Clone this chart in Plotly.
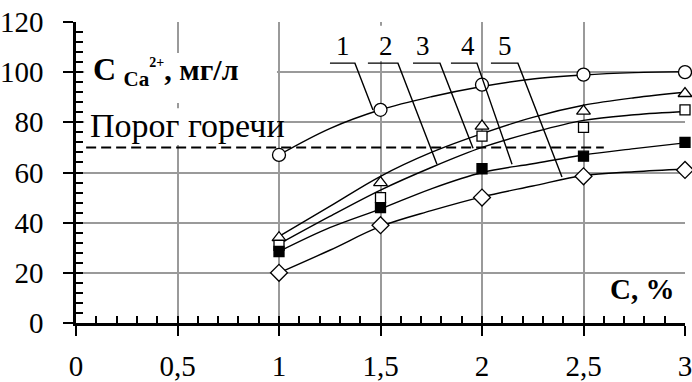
import plotly.graph_objects as go

# ---- data ----
X_POINTS = [1, 1.5, 2, 2.5, 3]
S1 = [67, 85, 95, 99, 100]        # circles (1)
S2 = [34, 56, 78.5, 84.5, 91.5]   # open triangles (2)
S3 = [31, 50, 74.5, 78, 85]       # open squares (3)
S4 = [28.5, 46, 61.5, 66.5, 72]   # filled squares (4)
S5 = [20, 39, 50, 58.5, 61]       # diamonds (5)

CURVE_X = [1, 1.25, 1.5, 1.75, 2, 2.25, 2.5, 2.75, 3]
C1 = [67, 77.5, 85, 90.2, 94.3, 97.3, 98.9, 99.8, 100.2]
C2 = [34.5, 46.5, 58.5, 68, 75.5, 82, 86.8, 89.8, 92]
C3 = [31.5, 42.5, 53, 62, 70, 76, 80.8, 83, 84.3]
C4 = [28.5, 38, 45.5, 53.5, 60, 63.5, 67, 69.5, 71.8]
C5 = [20, 29, 38.5, 44.8, 50.3, 54.6, 58.8, 60.3, 61.4]

THRESHOLD = 70
THRESHOLD_LABEL = "Порог горечи"
SERIES_LABELS = ["1", "2", "3", "4", "5"]

X_TICKS = [0, 0.5, 1, 1.5, 2, 2.5, 3]
X_TICK_TEXT = ["0", "0,5", "1", "1,5", "2", "2,5", "3"]
Y_TICKS = [0, 20, 40, 60, 80, 100, 120]
Y_TICK_TEXT = ["0", "20", "40", "60", "80", "100", "120"]

FONT = "Liberation Serif"

fig = go.Figure()

curves = [C1, C2, C3, C4, C5]
for c in curves:
    fig.add_trace(go.Scatter(x=CURVE_X, y=c, mode="lines",
                             line=dict(color="black", width=1.4, shape="spline", smoothing=1),
                             hoverinfo="skip", showlegend=False, cliponaxis=False))

markers = [
    (S1, "circle", "white", 13),
    (S2, "triangle-up", "white", 12),
    (S3, "square", "white", 10),
    (S4, "square", "black", 10),
    (S5, "diamond", "white", 13),
]
for s, sym, fill, size in markers:
    fig.add_trace(go.Scatter(x=X_POINTS, y=s, mode="markers",
                             marker=dict(symbol=sym, color=fill, size=size,
                                         line=dict(color="black", width=1.3)),
                             showlegend=False, cliponaxis=False))

# invisible trace for the minor-tick overlay axes
fig.add_trace(go.Scatter(x=[None], y=[None], xaxis="x2", yaxis="y2",
                         mode="markers", showlegend=False, hoverinfo="skip"))

shapes = []
# white boxes behind the texts
for (x0, x1, y0, y1) in [(0.04, 0.99, 87.7, 107.6), (0.04, 0.99, 71.0, 85.6), (1.478, 1.576, 104.4, 118.5)]:
    shapes.append(dict(type="rect", xref="x", yref="y", x0=x0, x1=x1, y0=y0, y1=y1,
                       fillcolor="white", line=dict(width=0), layer="between"))
# threshold dashed line
shapes.append(dict(type="line", xref="x", yref="y", x0=0.05, x1=2.6, y0=THRESHOLD, y1=THRESHOLD,
                   line=dict(color="black", width=2, dash="10px,5px")))
# leader lines (label underline + diagonal pointer)
leaders = [
    (1.251, 1.374, 1.463, 84.9),
    (1.438, 1.586, 1.778, 63.3),
    (1.660, 1.793, 1.956, 69.7),
    (1.847, 1.975, 2.148, 63.3),
    (2.044, 2.177, 2.394, 58.2),
]
LY = 103.6
for (a, b, ex, ey) in leaders:
    shapes.append(dict(type="path", xref="x", yref="y",
                       path=f"M {a},{LY} L {b},{LY} L {ex},{ey}",
                       line=dict(color="black", width=1.4)))

annotations = []
label_x = [1.315, 1.527, 1.709, 1.931, 2.113]
for lx, t in zip(label_x, SERIES_LABELS):
    annotations.append(dict(x=lx, y=110.4, xref="x", yref="y", text=t, showarrow=False,
                            font=dict(family=FONT, size=27, color="black"),
                            xanchor="center", yanchor="middle"))
annotations.append(dict(x=0.058, y=78.6, xref="x", yref="y", text=THRESHOLD_LABEL, showarrow=False,
                        font=dict(family=FONT, size=34, color="black"),
                        xanchor="left", yanchor="middle"))
annotations.append(dict(x=0.075, y=100.5, xref="x", yref="y",
                        text="<b><span style='font-size:32px'>C</span> <sub>Ca</sub><sup><span style='font-size:14px'>2+</span></sup>, мг/л</b>",
                        showarrow=False, font=dict(family=FONT, size=30, color="black"),
                        xanchor="left", yanchor="middle"))
annotations.append(dict(x=2.788, y=13.7, xref="x", yref="y", text="<b>C, %</b>", showarrow=False,
                        font=dict(family=FONT, size=29, color="black"),
                        xanchor="center", yanchor="middle"))

tickfont = dict(family=FONT, size=29, color="black", weight="normal")

fig.update_layout(
    width=692, height=382,
    margin=dict(l=76, r=7, t=22, b=59),
    font=dict(family=FONT, color="black"),
    paper_bgcolor="white", plot_bgcolor="white",
    showlegend=False,
    shapes=shapes, annotations=annotations,
    xaxis=dict(range=[0, 3], tickmode="array", tickvals=X_TICKS, ticktext=X_TICK_TEXT, automargin=False,
               showgrid=True, gridcolor="#9a9a9a", gridwidth=1.5, zeroline=False,
               showline=True, linecolor="black", linewidth=2.5,
               ticks="outside", ticklen=10, tickwidth=2, tickcolor="black",
               ticklabelstandoff=5, ticklabeloverflow="allow",
               tickfont=tickfont),
    yaxis=dict(range=[0, 120], tickmode="array", tickvals=Y_TICKS, ticktext=Y_TICK_TEXT, automargin=False,
               showgrid=True, gridcolor="#9a9a9a", gridwidth=1.5, zeroline=False,
               showline=True, linecolor="black", linewidth=2.5,
               ticks="outside", ticklen=10, tickwidth=2, tickcolor="black",
               ticklabelstandoff=14, ticklabeloverflow="allow",
               tickfont=tickfont),
    xaxis2=dict(overlaying="x", anchor="y2", range=[0, 3], tick0=0, dtick=0.1, automargin=False,
                ticks="inside", ticklen=7, tickwidth=1.5, tickcolor="black",
                showticklabels=False, showgrid=False, zeroline=False, showline=False),
    yaxis2=dict(overlaying="y", anchor="x2", range=[0, 120], tick0=0, dtick=4, automargin=False,
                ticks="inside", ticklen=7, tickwidth=1.5, tickcolor="black",
                showticklabels=False, showgrid=False, zeroline=False, showline=False),
)

# remove the default 8px page margin so the figure fills the window exactly
fig.write_html("out.html", config={"displayModeBar": False},
               post_script="document.body.style.margin='0';")
